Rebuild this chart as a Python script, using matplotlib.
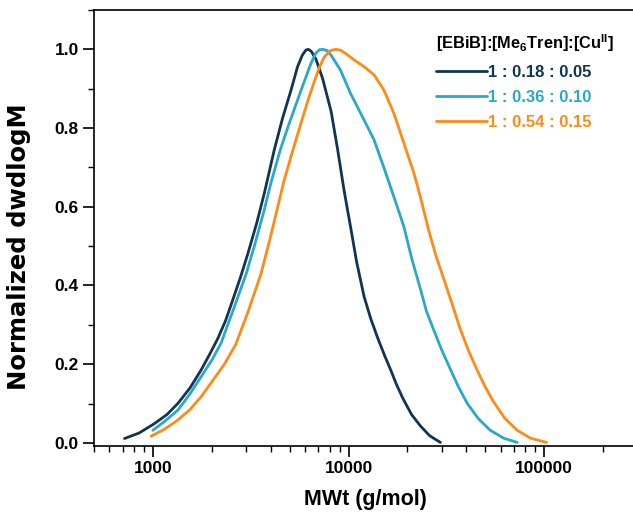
import numpy as np
import matplotlib
matplotlib.use('Agg')
import matplotlib.pyplot as plt
from matplotlib.ticker import FixedLocator, NullFormatter, MultipleLocator

plt.rcParams['font.family'] = ['Liberation Sans', 'DejaVu Sans']
plt.rcParams['font.weight'] = 'bold'
plt.rcParams['mathtext.fontset'] = 'custom'
plt.rcParams['mathtext.rm'] = 'Liberation Sans:bold'
plt.rcParams['mathtext.bf'] = 'Liberation Sans:bold'

# 数据：从图中读取
mw_1 = [716, 850, 1019, 1180, 1341, 1550, 1763, 1950, 2146, 2350, 2507, 2800, 3055, 3400,
        3710, 4170, 4600, 5073, 5490, 5800, 6050, 6230, 6450, 6815, 7380, 8150, 8800, 9500,
        10240, 11000, 12020, 13000, 14040, 15200, 16430, 17600, 19000, 21000, 23400, 26000, 29500]
y_1 = [0.011, 0.025, 0.049, 0.072, 0.10, 0.14, 0.185, 0.225, 0.265, 0.31, 0.35, 0.42, 0.48, 0.56,
       0.634, 0.744, 0.825, 0.895, 0.956, 0.985, 0.998, 1.0, 0.995, 0.975, 0.925, 0.842, 0.745, 0.64,
       0.549, 0.46, 0.371, 0.315, 0.269, 0.225, 0.185, 0.148, 0.112, 0.072, 0.042, 0.018, 0.001]

mw_2 = [1000, 1150, 1341, 1550, 1763, 2000, 2230, 2610, 3000, 3300, 3700, 4010, 4475, 4880,
        5300, 5710, 6420, 6800, 7100, 7380, 7750, 8150, 9100, 10240, 12020, 13500, 15150, 17060,
        19200, 21000, 23400, 25000, 27300, 30000, 33300, 36500, 40470, 46000, 53000, 62000, 72800]
y_2 = [0.032, 0.055, 0.083, 0.125, 0.168, 0.21, 0.253, 0.346, 0.43, 0.50, 0.59, 0.66, 0.744, 0.80,
       0.85, 0.895, 0.964, 0.99, 0.999, 1.0, 0.997, 0.985, 0.947, 0.888, 0.82, 0.77, 0.70, 0.625,
       0.549, 0.47, 0.388, 0.335, 0.286, 0.235, 0.185, 0.142, 0.10, 0.062, 0.032, 0.012, 0.001]

mw_3 = [980, 1150, 1341, 1550, 1763, 2000, 2320, 2650, 3050, 3570, 3930, 4300, 4690, 5240,
        5710, 6200, 6670, 7100, 7520, 8100, 8600, 9100, 9890, 10680, 12020, 13500, 15150, 17060,
        19200, 21600, 23300, 25700, 28000, 30800, 34000, 37200, 41000, 45400, 50000, 55000, 63000,
        72800, 85000, 103000]
y_3 = [0.017, 0.035, 0.058, 0.085, 0.117, 0.155, 0.20, 0.25, 0.33, 0.43, 0.51, 0.59, 0.668, 0.75,
       0.812, 0.87, 0.917, 0.955, 0.981, 0.997, 1.0, 0.998, 0.986, 0.973, 0.956, 0.935, 0.897, 0.837,
       0.761, 0.685, 0.625, 0.54, 0.475, 0.414, 0.35, 0.29, 0.235, 0.185, 0.142, 0.105, 0.062,
       0.032, 0.012, 0.001]

labels = ['1 : 0.18 : 0.05', '1 : 0.36 : 0.10', '1 : 0.54 : 0.15']
colors = ['#0f3550', '#2aa8c8', '#ff8a17']

fig = plt.figure(figsize=(6.33, 5.17), dpi=100)
ax = fig.add_axes([94 / 633, 1 - 446 / 517, (637.5 - 94) / 633, (446 - 10) / 517])

for mw, y, lab, c in zip([mw_1, mw_2, mw_3], [y_1, y_2, y_3], labels, colors):
    ax.plot(mw, y, color=c, lw=2.0, label=lab, solid_capstyle='round', solid_joinstyle='round')

ax.set_xscale('log')
ax.set_xlim(500, 300000)
ax.set_ylim(-0.008, 1.1)

ax.xaxis.set_major_locator(FixedLocator([1000, 10000, 100000]))
ax.set_xticklabels(['1000', '10000', '100000'])
minors = [m * 10 ** d for d in [2, 3, 4, 5] for m in range(2, 10)]
ax.xaxis.set_minor_locator(FixedLocator(minors))
ax.xaxis.set_minor_formatter(NullFormatter())
ax.yaxis.set_minor_locator(MultipleLocator(0.1))
ax.set_yticks([0, 0.2, 0.4, 0.6, 0.8, 1.0])
ax.set_yticklabels(['0.0', '0.2', '0.4', '0.6', '0.8', '1.0'])

ax.tick_params(which='major', direction='out', length=8, width=1.2, labelsize=12.5, pad=3)
ax.tick_params(which='minor', direction='out', length=4.5, width=1.0)
for s in ax.spines.values():
    s.set_linewidth(1.2)

ax.set_xlabel('MWt (g/mol)', fontsize=15.5, fontweight='bold', labelpad=9)
ax.set_ylabel('Normalized dwdlogM', fontsize=17.5, fontweight='bold',
              family=['DejaVu Sans'])
ax.yaxis.set_label_coords(-0.115, 0.456)

leg = ax.legend(title=r'[EBiB]:[Me$_\mathbf{6}$Tren]:[Cu$^{\mathbf{II}}$]',
                loc='upper left', bbox_to_anchor=(0.607, 0.975), frameon=False,
                handlelength=3.1, handletextpad=0.05, labelspacing=0.62,
                borderpad=0.2, prop={'size': 12, 'weight': 'bold'}, labelcolor='linecolor')
leg.get_title().set_fontsize(11.8)
leg.get_title().set_fontweight('bold')
leg._legend_box.align = 'left'

fig.savefig('out.png', dpi=100)
